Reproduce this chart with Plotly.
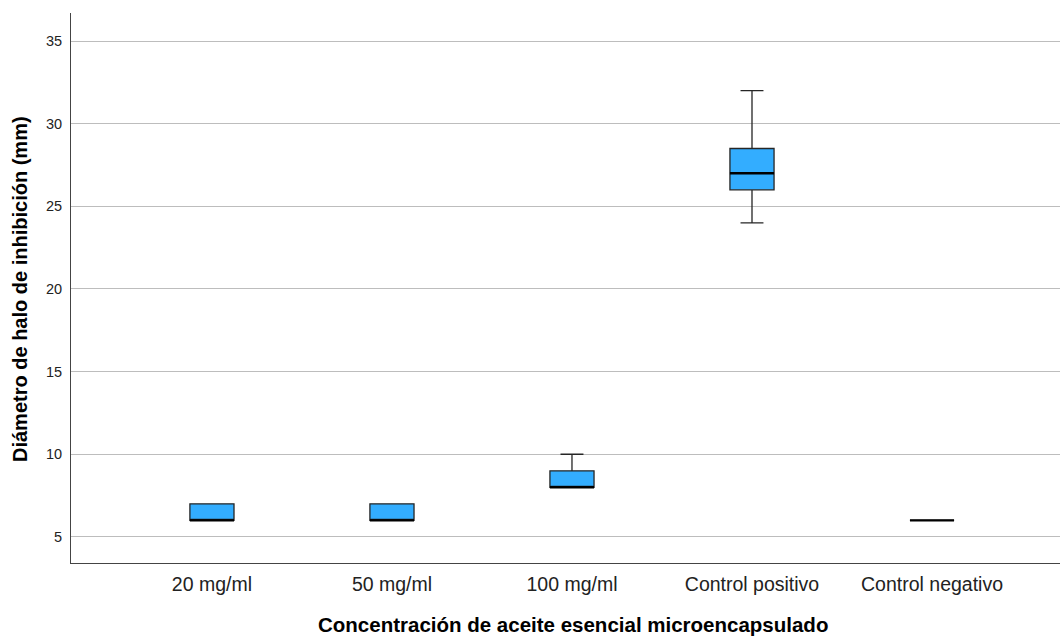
import plotly.graph_objects as go

categories = ["20 mg/ml", "50 mg/ml", "100 mg/ml", "Control positivo", "Control negativo"]
q1 = [6, 6, 8, 26, 6]
median = [6, 6, 8, 27, 6]
q3 = [7, 7, 9, 28.5, 6]
lowerfence = [6, 6, 8, 24, 6]
upperfence = [7, 7, 10, 32, 6]
y_ticks = [5, 10, 15, 20, 25, 30, 35]

L, T, B = 71, 13, 73
W, H = 1060, 636
pw, ph = W - L, H - T - B

box_w = 0.245
fig = go.Figure()
pos = list(range(len(categories)))
fig.add_trace(go.Box(
    x=pos, q1=q1, median=median, q3=q3,
    lowerfence=lowerfence, upperfence=upperfence,
    width=box_w, whiskerwidth=0.52,
    fillcolor="#33adff", line=dict(color="#262626", width=1.3),
    boxpoints=False, hoverinfo="skip", showlegend=False,
))
mx, my = [], []
for i, m in enumerate(median):
    mx += [i - box_w / 2, i + box_w / 2, None]
    my += [m, m, None]
fig.add_trace(go.Scatter(x=mx, y=my, mode="lines",
                         line=dict(color="black", width=2.4),
                         hoverinfo="skip", showlegend=False))

fig.update_layout(
    width=W, height=H,
    margin=dict(l=L, r=0, t=T, b=B, autoexpand=False),
    paper_bgcolor="white", plot_bgcolor="white",
    font=dict(family="Liberation Sans, Arial, sans-serif", color="#222222"),
    xaxis=dict(
        range=[-0.783, 4.711], tickvals=pos, ticktext=categories,
        showgrid=False, zeroline=False, automargin=False,
        showline=True, linecolor="#444444", linewidth=1,
        ticks="outside", ticklen=4, tickcolor="rgba(0,0,0,0)",
        tickfont=dict(size=19.5, color="#222222"),
    ),
    yaxis=dict(
        range=[3.42, 36.7], tickvals=y_ticks,
        showgrid=True, gridcolor="#bdbdbd", gridwidth=1, zeroline=False,
        automargin=False,
        showline=True, linecolor="#444444", linewidth=1,
        ticks="outside", ticklen=5, tickcolor="rgba(0,0,0,0)",
        tickfont=dict(size=14.5, color="#222222"),
    ),
    annotations=[
        dict(text="<b>Concentración de aceite esencial microencapsulado</b>",
             xref="paper", yref="paper", x=(573 - L) / pw, y=(H - B - 624) / ph,
             xanchor="center", yanchor="middle", showarrow=False,
             font=dict(size=20.5, color="black")),
        dict(text="<b>Diámetro de halo de inhibición (mm)</b>",
             xref="paper", yref="paper", x=(20 - L) / pw, y=(H - B - 289) / ph,
             xanchor="center", yanchor="middle", showarrow=False, textangle=-90,
             font=dict(size=20, color="black")),
    ],
)
fig.write_html("out.html", config={"displayModeBar": False},
               post_script="document.body.style.margin='0px';")
